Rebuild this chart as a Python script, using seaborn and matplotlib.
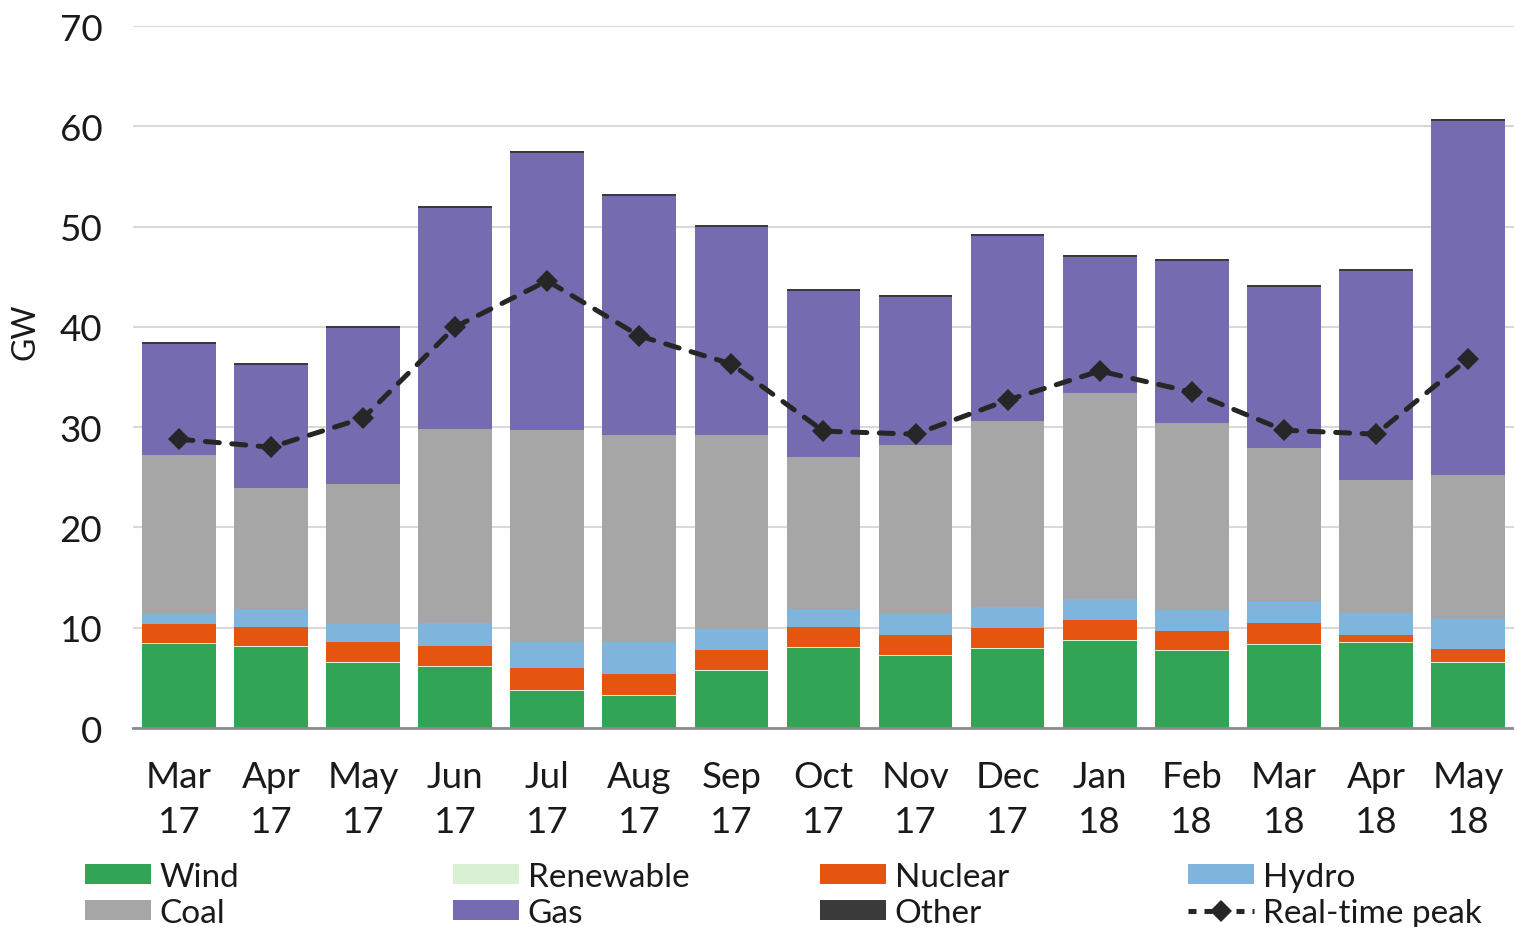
import numpy as np
import pandas as pd
import matplotlib
matplotlib.use("Agg")
import matplotlib.pyplot as plt
from matplotlib.patches import Patch
from matplotlib.lines import Line2D
import seaborn as sns

# monthly generation mix (GW)
months = ["Mar\n17", "Apr\n17", "May\n17", "Jun\n17", "Jul\n17", "Aug\n17", "Sep\n17", "Oct\n17",
          "Nov\n17", "Dec\n17", "Jan\n18", "Feb\n18", "Mar\n18", "Apr\n18", "May\n18"]

wind = [8.4, 8.1, 6.5, 6.1, 3.7, 3.2, 5.7, 8.0, 7.2, 7.9, 8.7, 7.7, 8.3, 8.5, 6.5]
renewable = [0.1, 0.1, 0.1, 0.1, 0.1, 0.1, 0.1, 0.1, 0.1, 0.1, 0.1, 0.1, 0.1, 0.1, 0.1]
nuclear = [1.9, 1.9, 2.0, 2.0, 2.2, 2.1, 2.0, 2.0, 2.0, 2.0, 2.0, 1.9, 2.1, 0.7, 1.3]
hydro = [1.0, 1.8, 1.8, 2.3, 2.6, 3.2, 2.1, 1.8, 2.1, 2.1, 2.1, 2.1, 2.2, 2.2, 3.0]
coal = [15.8, 12.0, 13.9, 19.3, 21.1, 20.6, 19.3, 15.1, 16.8, 18.5, 20.5, 18.6, 15.2, 13.2, 14.3]
gas = [11.1, 12.3, 15.6, 22.1, 27.6, 23.8, 20.8, 16.6, 14.8, 18.5, 13.6, 16.2, 16.1, 20.9, 35.3]
other = [0.2, 0.2, 0.2, 0.2, 0.2, 0.2, 0.2, 0.2, 0.2, 0.2, 0.2, 0.2, 0.2, 0.2, 0.2]

peak = [28.8, 28.0, 30.9, 40.0, 44.6, 39.1, 36.3, 29.6, 29.3, 32.7, 35.6, 33.5, 29.7, 29.3, 36.8]

series = {"Wind": wind, "Renewable": renewable, "Nuclear": nuclear, "Hydro": hydro,
          "Coal": coal, "Gas": gas, "Other": other}
colors = {"Wind": "#32a455", "Renewable": "#d9f0d3", "Nuclear": "#e5550f", "Hydro": "#7fb5dd",
          "Coal": "#a6a6a6", "Gas": "#756bb0", "Other": "#3a3a3a"}

df = pd.DataFrame(series, index=months)
cum = df.cumsum(axis=1)

sns.set_theme(style="white")
plt.rcParams["font.family"] = ["Lato", "DejaVu Sans"]

fig = plt.figure(figsize=(15.14, 9.28), dpi=100)
ax = fig.add_axes([0.0878, 0.2144, 0.9122, 0.7565])

ax.set_axisbelow(True)
ax.yaxis.grid(True, color="#d9d9d9", linewidth=1.5)

# stacked bars: draw cumulative totals from top layer down
for name in reversed(list(series.keys())):
    sns.barplot(x=months, y=cum[name].values, color=colors[name], saturation=1,
                width=0.8, linewidth=0, ax=ax, order=months)

sns.lineplot(x=np.arange(len(months)), y=peak, ax=ax, color="#262626", linewidth=3.6,
             marker="D", markersize=11, markeredgewidth=0, dashes=False,
             linestyle=(0, (2.8, 2.5)), dash_capstyle="round", zorder=5)

ax.set_xlim(-0.5, 14.5)
ax.set_ylim(0, 70)
ax.set_yticks(range(0, 71, 10))
ax.set_xlabel("")
ax.set_ylabel("GW", fontsize=23, color="#1a1a1a")
ax.yaxis.set_label_coords(-0.067, 0.566)
ax.tick_params(axis="y", length=0, pad=22, labelsize=26.5, labelcolor="#1a1a1a")
ax.tick_params(axis="x", length=0, pad=23, labelsize=26.5, labelcolor="#1a1a1a")
for t in ax.get_xticklabels():
    t.set_linespacing(1.45)

for s in ["top", "right", "left"]:
    ax.spines[s].set_visible(False)
ax.spines["bottom"].set_color("#8c8c8c")
ax.spines["bottom"].set_linewidth(2)

# legend: 4 columns, 2 rows
def patch(name):
    return Patch(facecolor=colors[name], edgecolor="none", label=name)

peak_handle = Line2D([], [], color="#262626", linewidth=3.6, linestyle=(0, (1.6, 1.6)),
                     marker="D", markersize=11, markeredgewidth=0, label="Real-time peak")

columns = [
    [patch("Wind"), patch("Coal")],
    [patch("Renewable"), patch("Gas")],
    [patch("Nuclear"), patch("Other")],
    [patch("Hydro"), peak_handle],
]
col_x = [85, 453, 820, 1188]
for x, hs in zip(col_x, columns):
    fig.legend(handles=hs, loc="upper left", bbox_to_anchor=(x / 1514, 1 - 863 / 928),
               frameon=False, fontsize=24, borderpad=0, borderaxespad=0,
               handlelength=1.97, handleheight=0.55, handletextpad=0.27,
               labelspacing=0.18, labelcolor="#1a1a1a")

fig.savefig("out.png", dpi=100)
